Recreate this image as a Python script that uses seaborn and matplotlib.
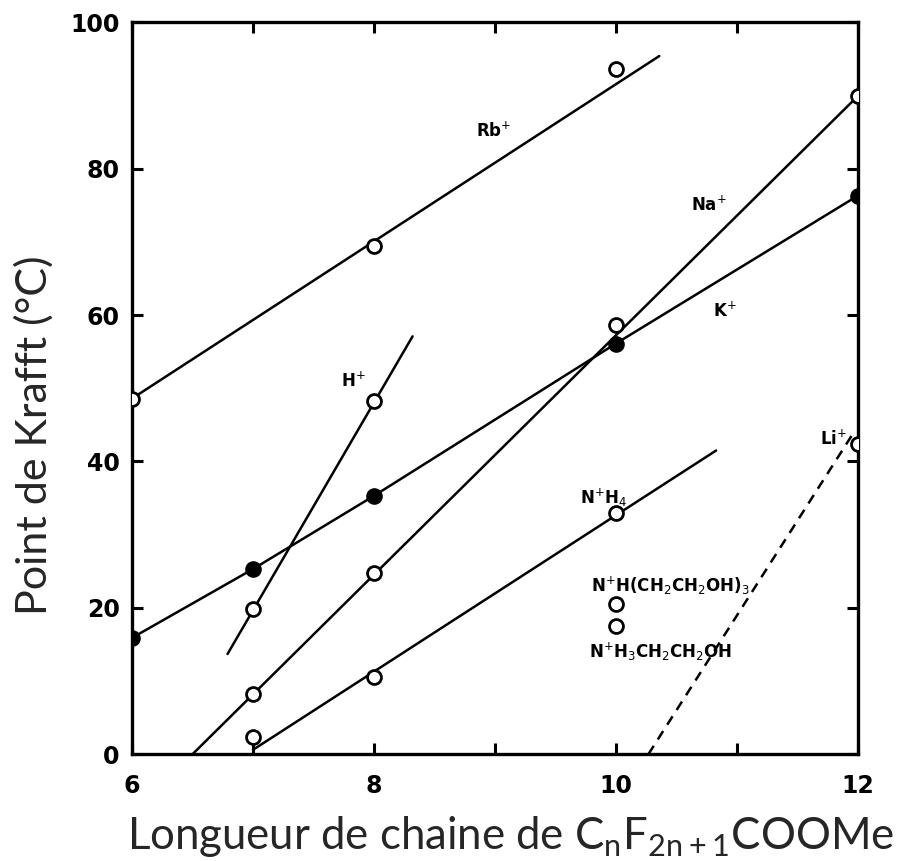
import matplotlib
matplotlib.use("Agg")
import matplotlib.pyplot as plt
import seaborn as sns
import pandas as pd

sns.set_theme(style="ticks")
plt.rcParams['font.family'] = ['DejaVu Sans']

# measured points
rb_x = [6, 8, 10]
rb_y = [48.6, 69.4, 93.6]
na_x = [7, 8, 10, 12]
na_y = [8.2, 24.7, 58.6, 89.9]
k_x = [6, 7, 8, 10, 12]
k_y = [15.9, 25.3, 35.3, 56.1, 76.3]
h_x = [7, 8]
h_y = [19.9, 48.3]
nh4_x = [7, 8, 10]
nh4_y = [2.3, 10.5, 33.0]
li_x = [12]
li_y = [42.4]
tea_x = [10]
tea_y = [20.5]
mea_x = [10]
mea_y = [17.5]

# fitted lines (endpoints)
rb_line_x = [6, 10.36]
rb_line_y = [48.6, 95.4]
na_line_x = [6.5, 12]
na_line_y = [0, 89.9]
h_line_x = [6.79, 8.32]
h_line_y = [13.7, 57.1]
nh4_line_x = [7.0, 10.83]
nh4_line_y = [0.6, 41.5]
li_line_x = [10.27, 11.95]
li_line_y = [0, 43.5]

fig = plt.figure(figsize=(8.98, 8.61), dpi=100)
ax = fig.add_axes([0.147, 0.124, 0.808, 0.850])

lw = 1.8
for lx, ly in [(rb_line_x, rb_line_y), (na_line_x, na_line_y), (k_x, k_y),
               (h_line_x, h_line_y), (nh4_line_x, nh4_line_y)]:
    sns.lineplot(x=lx, y=ly, ax=ax, color="black", linewidth=lw, sort=False)
sns.lineplot(x=li_line_x, y=li_line_y, ax=ax, color="black", linewidth=lw,
             linestyle=(0, (4, 3)), sort=False)

open_x = rb_x + na_x + h_x + nh4_x + li_x + tea_x + mea_x
open_y = rb_y + na_y + h_y + nh4_y + li_y + tea_y + mea_y
sns.scatterplot(x=open_x, y=open_y, ax=ax, s=100, facecolor="white",
                edgecolor="black", linewidth=2, zorder=5)
sns.scatterplot(x=k_x, y=k_y, ax=ax, s=120, color="black",
                edgecolor="black", linewidth=1, zorder=5)

tkw = dict(fontsize=12, fontweight="bold", color="black", ha="center", va="center")
ax.text(8.99, 85.2, "Rb$^{+}$", **tkw)
ax.text(10.77, 75.0, "Na$^{+}$", **tkw)
ax.text(10.9, 60.6, "K$^{+}$", **tkw)
ax.text(7.83, 51.0, "H$^{+}$", **tkw)
ax.text(9.9, 35.0, "N$^{+}$H$_4$", **tkw)
ax.text(10.45, 23.0, "N$^{+}$H(CH$_2$CH$_2$OH)$_3$", **tkw)
ax.text(10.37, 14.0, "N$^{+}$H$_3$CH$_2$CH$_2$OH", **tkw)
ax.text(11.8, 43.0, "Li$^{+}$", **tkw)

ax.set_xlim(6, 12)
ax.set_ylim(0, 100)
ax.set_xticks([6, 8, 10, 12])
ax.set_xticks([7, 9, 11], minor=True)
ax.set_yticks([0, 20, 40, 60, 80, 100])
ax.tick_params(axis="both", which="both", direction="in", top=True, right=True,
               width=2.2, length=8, labelsize=17, color="black", labelcolor="black")
ax.tick_params(axis="x", pad=14)
ax.tick_params(axis="y", pad=9)
for lab in ax.get_xticklabels() + ax.get_yticklabels():
    lab.set_fontweight("bold")
for sp in ax.spines.values():
    sp.set_linewidth(2.4)
    sp.set_color("black")

lab_font = ['Lato', 'DejaVu Sans']
ax.set_ylabel("Point de Krafft (°C)", fontsize=31, family=lab_font, labelpad=12)
ax.yaxis.label.set_y(0.436)
ax.set_xlabel("Longueur de chaine de C$_\\mathregular{n}$F$_\\mathregular{2n+1}$COOMe",
              fontsize=31.5, family=lab_font, labelpad=12)
ax.xaxis.label.set_x(0.522)

fig.savefig("out.png", dpi=100)
